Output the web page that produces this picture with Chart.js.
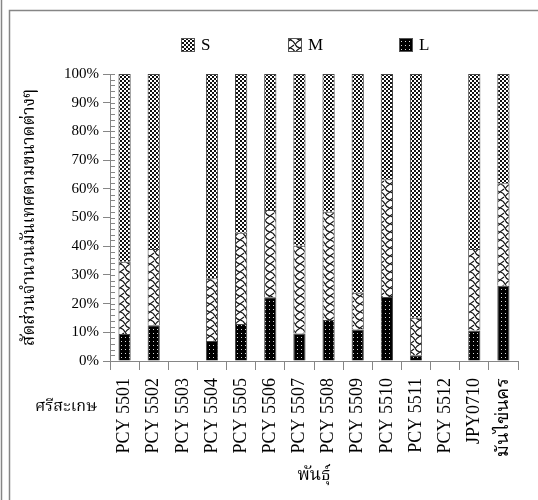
<!DOCTYPE html>
<html>
<head>
<meta charset="utf-8">
<script src="https://cdn.jsdelivr.net/npm/chart.js@4.4.0/dist/chart.umd.min.js"></script>
<style>
  html, body { margin: 0; padding: 0; background: #fff; }
  #wrap { width: 538px; height: 500px; }
</style>
</head>
<body>
<div id="wrap"><canvas id="c" width="538" height="500"></canvas></div>
<script>
// Varieties (x categories) and share of roots per size class, in percent
const categories = ['PCY 5501', 'PCY 5502', 'PCY 5503', 'PCY 5504', 'PCY 5505', 'PCY 5506', 'PCY 5507',
                    'PCY 5508', 'PCY 5509', 'PCY 5510', 'PCY 5511', 'PCY 5512', 'JPY0710', 'มันไข่นคร'];
const sizeL = [9.4, 12.5, null, 7.0, 12.9, 22.2, 9.6, 14.3, 11.0, 22.3, 2.0, null, 10.6, 26.2];
const sizeM = [25.2, 26.5, null, 21.8, 31.8, 30.4, 30.6, 37.7, 12.8, 41.0, 13.1, null, 28.4, 35.7];
const sizeS = [65.4, 61.0, null, 71.2, 55.3, 47.4, 59.8, 48.0, 76.2, 36.7, 84.9, null, 61.0, 38.1];
const yMax = 100;
const yStep = 10;
const yMinorStep = 2;
const groupLabel = 'ศรีสะเกษ';
const xTitle = 'พันธุ์';
const yTitle = 'สัดส่วนจำนวนมันเทศตามขนาดต่างๆ';

const SERIF = "'Liberation Serif', 'Times New Roman', serif";
const THAI = "'Liberation Serif', 'Noto Serif Thai', 'Noto Sans Thai', 'Loma', 'Garuda', 'Tlwg Typo', sans-serif";
const AXIS_GRAY = '#868686';

const canvas = document.getElementById('c');
const mainCtx = canvas.getContext('2d');

function makePattern(w, h, draw) {
  const t = document.createElement('canvas');
  t.width = w; t.height = h;
  const g = t.getContext('2d');
  draw(g, w, h);
  return mainCtx.createPattern(t, 'repeat');
}

// S: fine checkerboard
const patS = makePattern(4, 4, (g) => {
  g.fillStyle = '#fff'; g.fillRect(0, 0, 4, 4);
  g.fillStyle = '#111';
  g.fillRect(0, 0, 2, 2); g.fillRect(2, 2, 2, 2);
});
// M: white with wavy lattice lines
const patM = makePattern(10, 8, (g) => {
  g.fillStyle = '#fff'; g.fillRect(0, 0, 10, 8);
  g.strokeStyle = '#111'; g.lineWidth = 1.1;
  g.beginPath(); g.moveTo(0, 0); g.bezierCurveTo(7, 1, 3, 7, 10, 8); g.stroke();
  g.beginPath(); g.moveTo(10, 0); g.quadraticCurveTo(7, 2, 5.5, 4); g.stroke();
  g.beginPath(); g.moveTo(0, 8); g.quadraticCurveTo(2, 6.5, 4, 5); g.stroke();
});
// L: black with white dots
const patL = makePattern(4, 4, (g) => {
  g.fillStyle = '#000'; g.fillRect(0, 0, 4, 4);
  g.fillStyle = '#d8d8d8'; g.fillRect(1, 1, 1, 1);
});

const series = [
  { label: 'L', data: sizeL, pattern: patL },
  { label: 'M', data: sizeM, pattern: patM },
  { label: 'S', data: sizeS, pattern: patS }
];

// Frame, inner y ticks, group label and legend
const decorPlugin = {
  id: 'decor',
  beforeDraw(chart) {
    const ctx = chart.ctx;
    ctx.save();
    ctx.fillStyle = '#fff';
    ctx.fillRect(0, 0, chart.width, chart.height);
    ctx.strokeStyle = AXIS_GRAY;
    ctx.lineWidth = 1.5;
    ctx.beginPath();
    ctx.moveTo(1.5, 0); ctx.lineTo(1.5, chart.height);
    ctx.moveTo(9.5, chart.height); ctx.lineTo(9.5, 10.5); ctx.lineTo(chart.width, 10.5);
    ctx.stroke();
    ctx.restore();
  },
  afterDraw(chart) {
    const ctx = chart.ctx;
    const y = chart.scales.y;
    const axisX = chart.chartArea.left;
    ctx.save();
    ctx.strokeStyle = AXIS_GRAY;
    ctx.lineWidth = 1;
    ctx.beginPath();
    for (let v = 0; v <= yMax; v += yMinorStep) {
      const py = Math.round(y.getPixelForValue(v)) + 0.5;
      ctx.moveTo(axisX, py); ctx.lineTo(axisX + 5, py);
    }
    ctx.stroke();

    // group label under the category axis
    ctx.fillStyle = '#000';
    ctx.font = '16px ' + THAI;
    ctx.textAlign = 'center';
    ctx.textBaseline = 'middle';
    ctx.fillText(groupLabel, 66, 407);

    // legend
    const items = [
      { s: series[2], bx: 181 },
      { s: series[1], bx: 288 },
      { s: series[0], bx: 399 }
    ];
    const by = 38, bs = 14;
    ctx.font = '17px ' + SERIF;
    ctx.textAlign = 'left';
    items.forEach((it) => {
      ctx.fillStyle = it.s.pattern;
      ctx.fillRect(it.bx, by, bs, bs);
      ctx.strokeStyle = '#555';
      ctx.strokeRect(it.bx + 0.5, by + 0.5, bs - 1, bs - 1);
      ctx.fillStyle = '#000';
      ctx.fillText(it.s.label, it.bx + bs + 6, by + bs / 2 + 1);
    });
    ctx.restore();
  }
};

new Chart(canvas, {
  type: 'bar',
  data: {
    labels: categories,
    datasets: series.map((s) => ({
      label: s.label,
      data: s.data,
      backgroundColor: s.pattern,
      borderColor: '#444',
      borderWidth: 1,
      barPercentage: 0.42,
      categoryPercentage: 1.0
    }))
  },
  options: {
    responsive: false,
    animation: false,
    layout: { padding: { top: 74, right: 20, left: 0, bottom: 0 } },
    plugins: {
      legend: { display: false },
      tooltip: { enabled: false }
    },
    scales: {
      x: {
        stacked: true,
        border: { color: AXIS_GRAY, width: 1 },
        grid: { offset: true, drawOnChartArea: false, drawTicks: true, tickLength: 9, color: AXIS_GRAY },
        ticks: {
          minRotation: 90, maxRotation: 90, autoSkip: false, padding: 8,
          color: '#000', font: { family: SERIF, size: 18 }
        },
        title: {
          display: true, text: xTitle, color: '#000',
          font: { family: THAI, size: 17 }, padding: { top: 0, bottom: 14 }
        },
        afterFit(scale) { scale.height = 139; }
      },
      y: {
        stacked: true,
        min: 0, max: yMax,
        border: { color: AXIS_GRAY, width: 1 },
        grid: { drawOnChartArea: false, drawTicks: true, tickLength: 7, color: AXIS_GRAY },
        ticks: {
          stepSize: yStep, padding: 4, color: '#000',
          font: { family: SERIF, size: 15 },
          callback: (v) => v + '%'
        },
        title: {
          display: true, text: yTitle, color: '#000',
          font: { family: THAI, size: 17 }, padding: { top: 19, bottom: 0 }
        },
        afterFit(scale) { scale.width = 110; }
      }
    }
  },
  plugins: [decorPlugin]
});
</script>
</body>
</html>
